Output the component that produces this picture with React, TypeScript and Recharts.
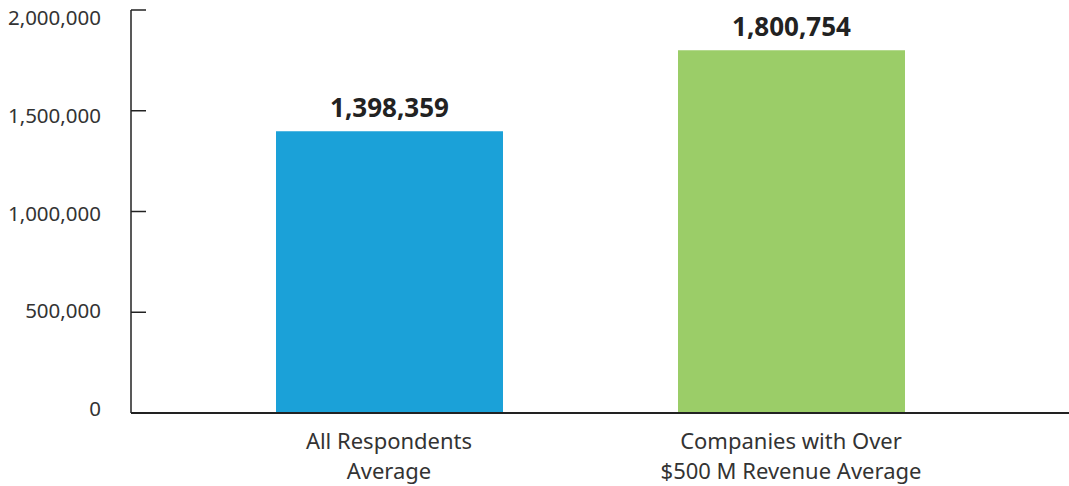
import { Bar, BarChart, Cell, LabelList, XAxis, YAxis } from 'recharts';

const categories = ['All Respondents\nAverage', 'Companies with Over\n$500 M Revenue Average'];
const values = [1398359, 1800754];
const barColors = ['#1BA1D8', '#9BCD68'];
const yTicks = [0, 500000, 1000000, 1500000, 2000000];

const data = categories.map((name, i) => ({ name, value: values[i] }));

const FONT = '"Noto Sans", sans-serif';
const fmt = (v: number) => v.toLocaleString('en-US');

// labels in the source sit slightly off their ticks: lower at the top, higher at the bottom
const YTick = (props: any) => {
  const { x, y, payload } = props;
  const shift = -4 + 12 * (payload.value / 2000000);
  return (
    <g>
      <line x1={x + 30} y1={y} x2={x + 45} y2={y} stroke="#222" strokeWidth={1.5} />
      <text x={x} y={y + shift} dy="0.35em" textAnchor="end" fill="#333" fontSize={20.5} fontFamily={FONT}>
        {fmt(payload.value)}
      </text>
    </g>
  );
};

const XTick = (props: any) => {
  const { x, y, payload } = props;
  const lines = String(payload.value).split('\n');
  return (
    <text x={x} y={y} textAnchor="middle" fill="#333" fontSize={22} fontFamily={FONT}>
      {lines.map((l, i) => (
        <tspan key={i} x={x} dy={i === 0 ? 28 : 30}>
          {l}
        </tspan>
      ))}
    </text>
  );
};

export default function App() {
  return (
    <div>
      <style>{'body{margin:0}'}</style>
      <BarChart
        width={1069}
        height={486}
        data={data}
        margin={{ top: 10, right: 0, bottom: 0, left: 0 }}
      >
        <XAxis
          dataKey="name"
          height={73}
          padding={{ left: 57, right: 77 }}
          axisLine={{ stroke: '#222', strokeWidth: 2 }}
          tickLine={false}
          tick={<XTick />}
          interval={0}
        />
        <YAxis
          width={131}
          domain={[0, 2000000]}
          ticks={yTicks}
          axisLine={{ stroke: '#222', strokeWidth: 1.5 }}
          tickLine={false}
          tickSize={0}
          tickMargin={30}
          tick={<YTick />}
          interval={0}
        />
        <Bar dataKey="value" barSize={227} isAnimationActive={false}>
          {data.map((d, i) => (
            <Cell key={`cell-${i}`} fill={barColors[i]} />
          ))}
          <LabelList
            dataKey="value"
            position="top"
            offset={14}
            formatter={(v: any) => fmt(Number(v))}
            fill="#222"
            fontSize={26}
            fontWeight={700}
            fontFamily={FONT}
          />
        </Bar>
      </BarChart>
    </div>
  );
}
